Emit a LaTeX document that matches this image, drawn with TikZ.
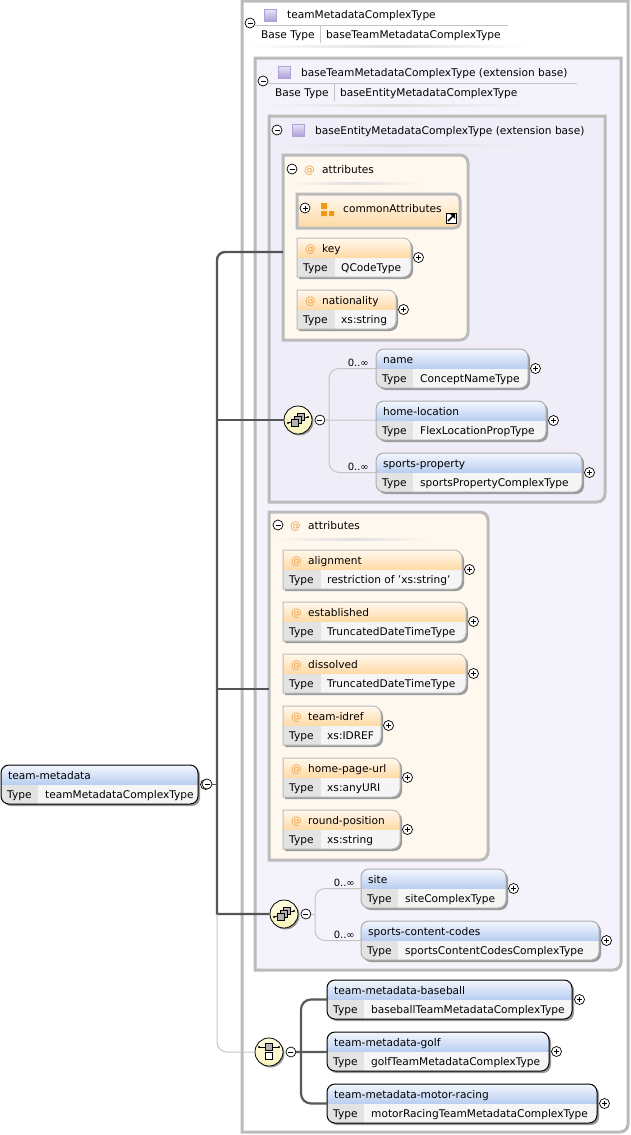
\documentclass[tikz,border=0pt]{standalone}
\usepackage{fontspec}
\setmainfont{DejaVu Sans}
\usetikzlibrary{calc, positioning}

\definecolor{panelgray}{HTML}{BBBBBB}
\definecolor{panelmid}{HTML}{F4F3FB}
\definecolor{panelin}{HTML}{EFEEF8}
\definecolor{attrpanel}{HTML}{FFF8EE}
\definecolor{attrtop}{HTML}{FFF9F0}
\definecolor{attrbot}{HTML}{FFD9A3}
\definecolor{elemtop}{HTML}{F4F7FE}
\definecolor{elembot}{HTML}{B7CDF0}
\definecolor{typedark}{HTML}{E3E3E3}
\definecolor{typelight}{HTML}{F5F5F5}
\definecolor{attype}{HTML}{EE9F45}
\definecolor{iconorange}{HTML}{EE9A12}
\definecolor{creamtop}{HTML}{FFFDE2}
\definecolor{creambot}{HTML}{F9F4BC}
\definecolor{shadowgray}{HTML}{999999}
\definecolor{trunkgray}{HTML}{555555}
\definecolor{linkgray}{HTML}{C4C4C4}
\definecolor{softedge}{HTML}{ABABAB}
\definecolor{typeicontop}{HTML}{E9E5F6}
\definecolor{typeiconbot}{HTML}{AEA1D8}

\tikzset{
  anchorbox/.style={anchor=north west,inner sep=0pt,outer sep=0pt},
  titletext/.style={anchor=base west,inner sep=0pt,font=\fontsize{10.6}{12}\selectfont,text=black},
  trunkline/.style={line width=2.4pt,trunkgray},
  branchline/.style={line width=1.6pt,trunkgray},
  linkline/.style={line width=1pt,linkgray},
  headline/.style={line width=.8pt,linkgray},
  choiceline/.style={line width=2.2pt,black!65},
  paneledge/.style={line width=3pt,panelgray},
  compositor/.style={circle,draw=black,line width=.8pt,top color=creamtop,bottom color=creambot,minimum size=28pt,inner sep=0pt,
    preaction={fill=shadowgray,transform canvas={shift={(1.5pt,-1.5pt)}}}},
  togglesign/.style={circle,draw=black,line width=.7pt,fill=white,minimum size=10pt,inner sep=0pt,outer sep=0pt},
  minustoggle/.style={togglesign,path picture={
      \draw[line width=.7pt] ($(path picture bounding box.center)+(-2.5,0)$) -- +(5,0);}},
  plustoggle/.style={togglesign,path picture={
      \draw[line width=.6pt] ($(path picture bounding box.center)+(-2.5,0)$) -- +(5,0);
      \draw[line width=.6pt] ($(path picture bounding box.center)+(0,-2.5)$) -- +(0,5);}},
  occurs/.style={anchor=base east,inner sep=0pt,font=\fontsize{10}{12}\selectfont}
}

% #1 name, #2 border colour, #3 x, #4 y, #5 width, #6 title, #7 type
\newcommand{\elementbox}[7]{
  \node[anchorbox,minimum width=#5pt,minimum height=39pt] (#1) at (#3,#4) {};
  \fill[shadowgray,rounded corners=8pt] ($(#1.north west)+(2,2)$) rectangle ($(#1.south east)+(2,2)$);
  \begin{scope}
    \clip[rounded corners=8pt] (#1.north west) rectangle (#1.south east);
    \shade[top color=elemtop,bottom color=elembot] (#1.north west) rectangle ($(#1.north east)+(0,20)$);
    \fill[typelight] ($(#1.north west)+(0,20)$) rectangle (#1.south east);
    \fill[typedark] ($(#1.north west)+(0,20)$) rectangle ($(#1.south west)+(37,0)$);
  \end{scope}
  \draw[#2,line width=1pt,rounded corners=8pt] (#1.north west) rectangle (#1.south east);
  \node[titletext] (#1Title) at ($(#1.north west)+(7,14)$) {#6};
  \node[titletext] (#1Key) at ($(#1.north west)+(6,33)$) {Type};
  \node[titletext] (#1Type) at ($(#1.north west)+(44,33)$) {#7};
  \node[plustoggle,right=2.5pt of #1] (#1Plus) {};
}

% #1 name, #2 x, #3 y, #4 width, #5 title, #6 type
\newcommand{\attributebox}[6]{
  \node[anchorbox,minimum width=#4pt,minimum height=39pt] (#1) at (#2,#3) {};
  \fill[shadowgray] ($(#1.south west)+(2,2)$) -- ($(#1.north west)+(2,2)$) [rounded corners=8pt] -- ($(#1.north east)+(2,2)$) -- ($(#1.south east)+(2,2)$) [sharp corners] -- cycle;
  \begin{scope}
    \clip (#1.south west) -- (#1.north west) [rounded corners=8pt] -- (#1.north east) -- (#1.south east) [sharp corners] -- cycle;
    \shade[top color=attrtop,bottom color=attrbot] (#1.north west) rectangle ($(#1.north east)+(0,20)$);
    \fill[typelight] ($(#1.north west)+(0,20)$) rectangle (#1.south east);
    \fill[typedark] ($(#1.north west)+(0,20)$) rectangle ($(#1.south west)+(38,0)$);
  \end{scope}
  \draw[panelgray,line width=1pt] (#1.south west) -- (#1.north west) [rounded corners=8pt] -- (#1.north east) -- (#1.south east) [sharp corners] -- cycle;
  \node[titletext,text=attype] (#1At) at ($(#1.north west)+(8,14)$) {@};
  \node[titletext] (#1Title) at ($(#1.north west)+(25,14)$) {#5};
  \node[titletext] (#1Key) at ($(#1.north west)+(6,33)$) {Type};
  \node[titletext] (#1Type) at ($(#1.north west)+(44,33)$) {#6};
  \node[plustoggle,right=2.5pt of #1] (#1Plus) {};
}

% #1 name, #2 x, #3 y, #4 width, #5 height, #6 fill
\newcommand{\panelsquare}[6]{
  \node[anchorbox,minimum width=#4pt,minimum height=#5pt] (#1) at (#2,#3) {};
  \draw[paneledge,fill=#6] (#1.north east) [rounded corners=8pt] -- (#1.south east) [sharp corners] -- (#1.south west) -- (#1.north west) -- cycle;
}
\newcommand{\panelround}[6]{
  \node[anchorbox,minimum width=#4pt,minimum height=#5pt] (#1) at (#2,#3) {};
  \draw[paneledge,fill=#6] (#1.south west) -- (#1.north west) [rounded corners=8pt] -- (#1.north east) -- (#1.south east) [sharp corners] -- cycle;
}

% purple type square
\newcommand{\typesquare}[2]{
  \shade[top color=typeicontop,bottom color=typeiconbot,draw=typeiconbot,line width=.8pt] ($(#1,#2)+(-6,-6)$) rectangle ($(#1,#2)+(6,6)$);
}
\newcommand{\seqicon}[1]{
  \draw[line width=.8pt] ($(#1.center)+(-10,3)$) -- ($(#1.center)+(10,-3)$);
  \fill ($(#1.center)+(-10,3)$) circle (1.1pt) ($(#1.center)+(10,-3)$) circle (1.1pt);
  \draw[fill=black!30,line width=.6pt] ($(#1.center)+(-.5,-7)$) rectangle +(7,7);
  \draw[fill=black!30,line width=.6pt] ($(#1.center)+(-3.5,-4)$) rectangle +(7,7);
  \draw[fill=black!30,line width=.6pt] ($(#1.center)+(-6.5,-.5)$) rectangle +(7,7);
}

\begin{document}
\begin{tikzpicture}[x=1pt,y=-1pt]
\useasboundingbox (0,0) rectangle (630,1135);

% nested type panels
\panelsquare{OuterPanel}{242}{1}{386}{1131}{white}
\panelsquare{MiddlePanel}{255}{58}{366}{912}{panelmid}
\panelsquare{InnerPanel}{269}{116}{336}{386}{panelin}

% outer heading
\draw[headline] (255,25) -- (508,25);
\node[minustoggle] (OuterToggle) at (250,23) {};
\typesquare{270}{15}
\node[titletext] (OuterTitle) at (287,18) {teamMetadataComplexType};
\node[titletext] (OuterBase) at (261,38) {Base Type};
\draw[headline] (320,26) -- (320,43);
\node[titletext] (OuterBaseName) at (326,38) {baseTeamMetadataComplexType};
\shade[left color=white,right color=white,middle color=black!12] (245,45.5) rectangle (530,47);

% middle heading
\draw[headline] (268,83) -- (577,83);
\node[minustoggle] (MiddleToggle) at (263,81) {};
\typesquare{284}{72}
\node[titletext] (MiddleTitle) at (301,76) {baseTeamMetadataComplexType (extension base)};
\node[titletext] (MiddleBase) at (275,96) {Base Type};
\draw[headline] (334,84) -- (334,101);
\node[titletext] (MiddleBaseName) at (340,96) {baseEntityMetadataComplexType};
\shade[left color=panelmid,right color=panelmid,middle color=black!12] (258,104) rectangle (532,106);

% inner heading
\node[minustoggle] (InnerToggle) at (277,130) {};
\typesquare{298}{130}
\node[titletext] (InnerTitle) at (315,134) {baseEntityMetadataComplexType (extension base)};
\shade[left color=panelin,right color=panelin,middle color=black!12] (271,144) rectangle (522,146);

% first attributes
\panelround{AttrOne}{283}{155}{185}{185}{attrpanel}
\node[minustoggle] (AttrOneToggle) at (292,169) {};
\node[titletext,text=attype] (AttrOneAt) at (304,173) {@};
\node[titletext] (AttrOneTitle) at (322,173) {attributes};
\shade[left color=attrpanel,right color=attrpanel,middle color=black!12] (286,182.5) rectangle (422,184);

\node[anchorbox,minimum width=163pt,minimum height=34pt] (Common) at (297,194) {};
\shade[top color=attrtop,bottom color=attrbot] (Common.south west) -- (Common.north west) [rounded corners=6pt] -- (Common.north east) [sharp corners] -- (Common.south east) -- cycle;
\draw[paneledge] (Common.south west) -- (Common.north west) [rounded corners=6pt] -- (Common.north east) -- (Common.south east) [sharp corners] -- cycle;
\node[plustoggle] (CommonToggle) at (305,208) {};
\fill[iconorange] (321,203) rectangle +(6,6) (321,211) rectangle +(6,5) (329,211) rectangle +(5,5);
\node[titletext] (CommonTitle) at (343,212) {commonAttributes};
\node[anchorbox,minimum size=10pt,draw=black,fill=white,line width=.8pt] (CommonLink) at (446,213) {};
\draw[line width=1.5pt] ($(CommonLink.center)+(-3,3)$) -- ($(CommonLink.center)+(2,-2)$);
\fill ($(CommonLink.center)+(-1,-4)$) -- ($(CommonLink.center)+(4,-4)$) -- ($(CommonLink.center)+(4,1)$) -- cycle;

\attributebox{Key}{297}{238}{114}{key}{QCodeType}
\attributebox{Nationality}{297}{290}{99}{nationality}{xs:string}

% first sequence
\node[compositor] (SeqOne) at (298,420) {};
\seqicon{SeqOne}
\node[minustoggle,right=2.5pt of SeqOne] (SeqOneToggle) {};
\elementbox{Name}{softedge}{376}{349}{152}{name}{ConceptNameType}
\elementbox{HomeLocation}{softedge}{376}{401}{170}{home-location}{FlexLocationPropType}
\elementbox{SportsProperty}{softedge}{376}{453}{206}{sports-property}{sportsPropertyComplexType}
\draw[linkline] (SeqOneToggle) -- (HomeLocation);
\draw[linkline,rounded corners=10pt] (Name) -| (329,420) |- (SportsProperty);
\node[occurs] (NameOccurs) at (369,366) {0..∞};
\node[occurs] (SportsOccurs) at (369,470) {0..∞};

% second attributes
\panelround{AttrTwo}{269}{512}{219}{348}{attrpanel}
\node[minustoggle] (AttrTwoToggle) at (278,525) {};
\node[titletext,text=attype] (AttrTwoAt) at (290,529) {@};
\node[titletext] (AttrTwoTitle) at (308,529) {attributes};
\shade[left color=attrpanel,right color=attrpanel,middle color=black!12] (272,538.5) rectangle (432,540);

\attributebox{Alignment}{283}{550}{179}{alignment}{restriction of \char"27 xs:string\char"27}
\attributebox{Established}{283}{602}{183}{established}{TruncatedDateTimeType}
\attributebox{Dissolved}{283}{654}{183}{dissolved}{TruncatedDateTimeType}
\attributebox{TeamIdref}{283}{706}{98}{team-idref}{xs:IDREF}
\attributebox{HomePage}{283}{758}{117}{home-page-url}{xs:anyURI}
\attributebox{RoundPosition}{283}{810}{117}{round-position}{xs:string}

% second sequence
\node[compositor] (SeqTwo) at (284,914) {};
\seqicon{SeqTwo}
\node[minustoggle,right=2.5pt of SeqTwo] (SeqTwoToggle) {};
\elementbox{Site}{softedge}{361}{869}{145}{site}{siteComplexType}
\elementbox{ContentCodes}{softedge}{361}{921}{238}{sports-content-codes}{sportsContentCodesComplexType}
\draw[linkline,rounded corners=10pt] (Site) -| (315,914) |- (ContentCodes);
\draw[linkline] (SeqTwoToggle) -- (315,914);
\node[occurs] (SiteOccurs) at (355,886) {0..∞};
\node[occurs] (CodesOccurs) at (355,938) {0..∞};

% choice
\node[compositor] (Choice) at (269,1052) {};
\draw[line width=.8pt] ($(Choice.center)+(-10,-5)$) -- ($(Choice.center)+(10,-5)$);
\fill ($(Choice.center)+(-10,-5)$) circle (1.1pt) ($(Choice.center)+(10,-5)$) circle (1.1pt);
\draw[fill=black!30,line width=.7pt] ($(Choice.center)+(-3.5,-8.5)$) rectangle +(7,7);
\draw[fill=white,line width=.7pt] ($(Choice.center)+(-3.5,.5)$) rectangle +(7,7);
\node[minustoggle,right=2.5pt of Choice] (ChoiceToggle) {};
\elementbox{Baseball}{black}{327}{980}{245}{team-metadata-baseball}{baseballTeamMetadataComplexType}
\elementbox{Golf}{black}{327}{1032}{222}{team-metadata-golf}{golfTeamMetadataComplexType}
\elementbox{MotorRacing}{black}{327}{1084}{270}{team-metadata-motor-racing}{motorRacingTeamMetadataComplexType}
\draw[choiceline] (ChoiceToggle) -- (Golf);
\draw[choiceline,rounded corners=10pt] (Baseball) -| (301,1052) |- (MotorRacing);

% root element
\elementbox{TeamMetadata}{black}{1}{765}{197}{team-metadata}{teamMetadataComplexType}
\node[minustoggle] (TeamToggle) at (207,784) {};
\coordinate (TrunkTop) at (217,252);
\coordinate (TrunkFoot) at (217,914);
\coordinate (TrunkSeq) at (217,420);
\coordinate (TrunkAttr) at (217,689);
\coordinate (TrunkRoot) at (217,784);
\draw[line width=1pt,trunkgray] (TeamToggle) -- (TrunkRoot);
\draw[trunkline] (AttrOne.west |- TrunkTop) [rounded corners=8pt] -- (TrunkTop) [sharp corners] -- (TrunkFoot) -- (SeqTwo);
\draw[trunkline] (TrunkSeq) -- (SeqOne);
\draw[branchline] (TrunkAttr) -- (AttrTwo.west |- TrunkAttr);
\draw[linkline] (TrunkFoot) [rounded corners=10pt] -- (217,1052) -- (Choice);
\end{tikzpicture}
\end{document}
